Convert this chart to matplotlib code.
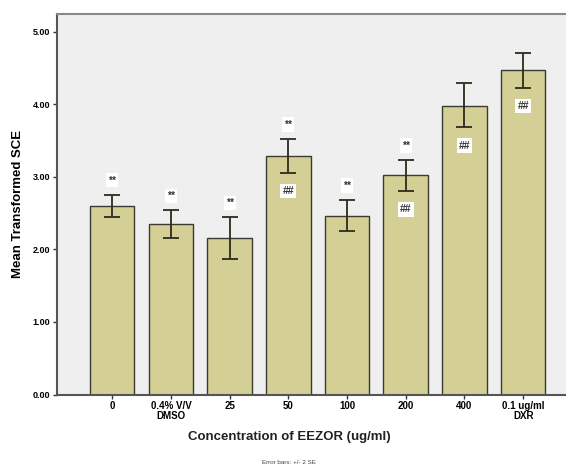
#!/usr/bin/env python3
"""Mean transformed SCE by EEZOR concentration, bars with +/- 2 SE error bars."""
import numpy as np
import matplotlib
matplotlib.use("Agg")
import matplotlib.pyplot as plt

plt.rcParams["font.family"] = ["Liberation Sans", "DejaVu Sans"]

groups = ["0", "0.4% V/V\nDMSO", "25", "50", "100", "200", "400", "0.1 ug/ml\nDXR"]
means = [2.60, 2.35, 2.16, 3.29, 2.46, 3.02, 3.98, 4.47]
err_hi = [2.75, 2.54, 2.44, 3.52, 2.68, 3.23, 4.29, 4.71]
err_lo = [2.45, 2.15, 1.87, 3.05, 2.25, 2.80, 3.68, 4.23]
star = [True, True, True, True, True, True, False, False]   # "**"
hash_ = [False, False, False, True, False, True, True, True]  # "##"

x = np.arange(len(groups))
means = np.array(means)
yerr = [means - np.array(err_lo), np.array(err_hi) - means]

fig = plt.figure(figsize=(5.66, 4.68), dpi=100)
ax = fig.add_axes([57 / 566, 73.5 / 468, 1 - 57 / 566, 381 / 468])
ax.set_facecolor("#efefef")

ax.bar(x, means, width=0.76, color="#d4cf95", edgecolor="#3a3a30", linewidth=1.0, zorder=2)
ax.errorbar(x, means, yerr=yerr, fmt="none", ecolor="#2e2a1c", elinewidth=1.3,
            capsize=5.5, capthick=1.3, zorder=3)

box = dict(boxstyle="square,pad=0.2", fc="white", ec="none")
for i in range(len(groups)):
    if star[i]:
        ax.text(x[i], err_hi[i] + 0.2, "**", ha="center", va="center", fontsize=7.5,
                fontweight="bold", color="#333333", bbox=box, zorder=4)
    if hash_[i]:
        ax.text(x[i], err_lo[i] - 0.25, "##", ha="center", va="center", fontsize=7.5,
                fontweight="bold", color="#333333", bbox=box, zorder=4)

ax.set_xlim(-0.94, 7.73)
ax.set_ylim(0, 5.25)
ax.set_yticks([0, 1, 2, 3, 4, 5])
ax.set_yticklabels([f"{v:.2f}" for v in [0, 1, 2, 3, 4, 5]], fontsize=6.5, fontweight="bold")
ax.set_xticks(x)
ax.set_xticklabels(groups, fontsize=7, fontweight="bold", linespacing=0.95)
ax.tick_params(axis="both", length=3, width=1, color="#333333", pad=2)

for side in ["left", "bottom"]:
    ax.spines[side].set_color("#555555")
    ax.spines[side].set_linewidth(1.5)
ax.spines["top"].set_color("#888888")
ax.spines["top"].set_linewidth(1.5)
ax.spines["right"].set_visible(False)

ax.set_ylabel("Mean Transformed SCE", fontsize=9.5, fontweight="bold", labelpad=6)
fig.text(289 / 566, 1 - 437 / 468, "Concentration of EEZOR (ug/ml)", ha="center",
         va="center", fontsize=9.5, fontweight="bold", color="#222222")
fig.text(289 / 566, 1 - 462 / 468, "Error bars: +/- 2 SE", ha="center", va="center",
         fontsize=4.5, color="#444444")

fig.savefig("out.png", dpi=100)
